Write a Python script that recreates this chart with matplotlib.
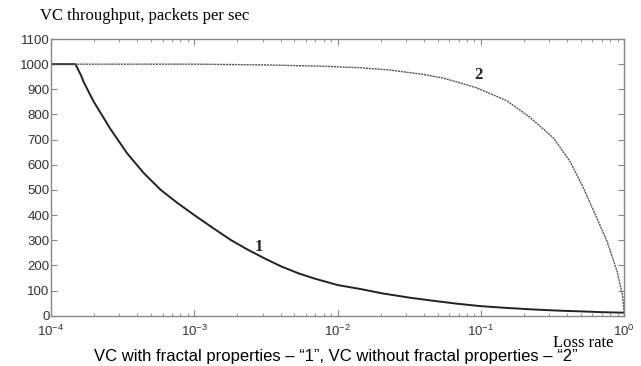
import matplotlib
matplotlib.use("Agg")
import matplotlib.pyplot as plt
import numpy as np

plt.rcParams["font.family"] = "Liberation Sans"
plt.rcParams["mathtext.fontset"] = "custom"
plt.rcParams["mathtext.rm"] = "Liberation Sans"
plt.rcParams["mathtext.it"] = "Liberation Sans"

# Curve 1: VC with fractal properties (log10 of loss rate, throughput)
log_loss_1 = [-4.0, -3.83, -3.79, -3.773, -3.703, -3.585, -3.468, -3.351,
              -3.234, -3.117, -3.0, -2.86, -2.742, -2.625, -2.51, -2.39,
              -2.27, -2.157, -2.0, -1.83, -1.69, -1.5, -1.34, -1.17, -1.0,
              -0.82, -0.64, -0.45, -0.29, -0.15, 0.0]
throughput_1 = [1000, 1000, 955, 930, 852, 742, 645, 566,
                500, 448, 400, 345, 300, 262, 228, 195,
                168, 147, 122, 105, 89, 72, 60, 48, 38,
                31, 25, 20, 17, 14, 12]

# Curve 2: VC without fractal properties
log_loss_2 = [-4.0, -3.0, -2.5, -2.11, -1.85, -1.64, -1.41, -1.266, -1.17,
              -1.03, -0.82, -0.66, -0.49, -0.376, -0.283, -0.189, -0.118,
              -0.048, -0.01, 0.0]
throughput_2 = [1000, 1000, 997, 992, 986, 977, 960, 945, 930,
                906, 855, 790, 705, 612, 507, 387, 294,
                175, 80, 10]

yticks = list(range(0, 1101, 100))
xticks = [1e-4, 1e-3, 1e-2, 1e-1, 1e0]
xticklabels = [r"$10^{-4}$", r"$10^{-3}$", r"$10^{-2}$", r"$10^{-1}$", r"$10^{0}$"]

fig = plt.figure(figsize=(6.41, 3.66), dpi=100)
ax = fig.add_axes([0.0796, 0.1374, 0.894, 0.756])

ax.plot(10 ** np.array(log_loss_1), throughput_1, color="#222222", lw=1.4)
ax.plot(10 ** np.array(log_loss_2), throughput_2, color="#555555", lw=1.0,
        ls=(0, (1.5, 0.6)))

ax.set_xscale("log")
ax.set_xlim(1e-4, 1)
ax.set_ylim(0, 1100)
ax.set_xticks(xticks)
ax.set_xticklabels(xticklabels)
ax.set_yticks(yticks)

for spine in ax.spines.values():
    spine.set_color("#888888")
    spine.set_linewidth(1.0)
ax.tick_params(which="both", direction="in", top=True, right=True,
               color="#888888", labelcolor="#333333", labelsize=9.5)
ax.tick_params(axis="y", pad=1)
ax.tick_params(axis="x", pad=6)
ax.tick_params(which="major", length=4)
ax.tick_params(which="minor", length=2.5)

# curve labels
ax.text(10 ** -2.55, 275, "1", family="Liberation Serif", fontweight="bold",
        fontsize=12, color="#222222", ha="center", va="center")
ax.text(10 ** -1.02, 957, "2", family="Liberation Serif", fontweight="bold",
        fontsize=12, color="#222222", ha="center", va="center")

fig.text(40 / 641, 1 - 16 / 366, "VC throughput, packets per sec",
         family="Liberation Serif", fontsize=12, va="center", ha="left")
fig.text(553 / 641, 1 - 343 / 366, "Loss rate",
         family="Liberation Serif", fontsize=12, va="center", ha="left")
fig.text(336 / 641, 1 - 357 / 366,
         "VC with fractal properties \u2013 \u201c1\u201d, VC without fractal properties \u2013 \u201c2\u201d",
         fontsize=12, va="center", ha="center")

fig.savefig("out.png", dpi=100)
